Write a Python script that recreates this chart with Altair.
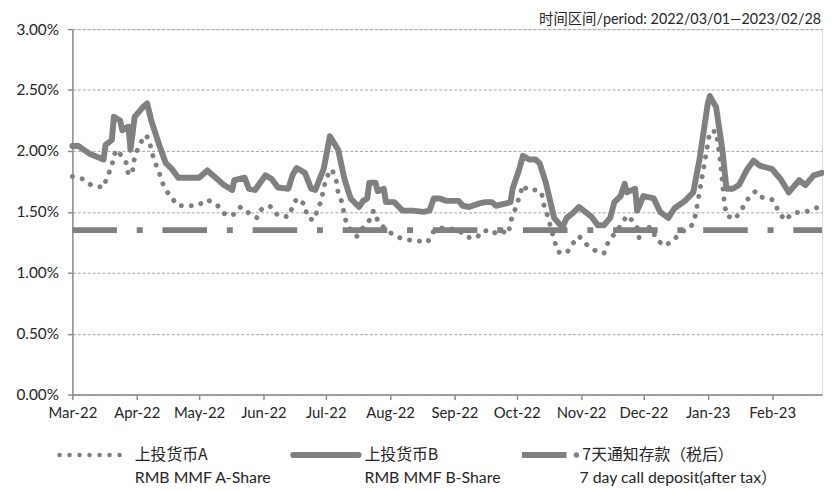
import altair as alt
import pandas as pd

# ---------------- data ----------------
B_dates = [
    "2022-03-01", "2022-03-04", "2022-03-09", "2022-03-16", "2022-03-17", "2022-03-20", "2022-03-21",
    "2022-03-24", "2022-03-25", "2022-03-28", "2022-03-29", "2022-03-31", "2022-04-04", "2022-04-06",
    "2022-04-08", "2022-04-12", "2022-04-15", "2022-04-18", "2022-04-21", "2022-04-24", "2022-05-01",
    "2022-05-05", "2022-05-09", "2022-05-13", "2022-05-17", "2022-05-18", "2022-05-23", "2022-05-25",
    "2022-05-28", "2022-06-02", "2022-06-05", "2022-06-08", "2022-06-13", "2022-06-15", "2022-06-17",
    "2022-06-21", "2022-06-24", "2022-06-26", "2022-06-30", "2022-07-03", "2022-07-07", "2022-07-10",
    "2022-07-13", "2022-07-17", "2022-07-19", "2022-07-21", "2022-07-22", "2022-07-25", "2022-07-26",
    "2022-07-29", "2022-07-30", "2022-08-03", "2022-08-07", "2022-08-12", "2022-08-17", "2022-08-20",
    "2022-08-22", "2022-08-25", "2022-08-28", "2022-08-31", "2022-09-03", "2022-09-05", "2022-09-08",
    "2022-09-13", "2022-09-16", "2022-09-19", "2022-09-21", "2022-09-26", "2022-09-28", "2022-09-29",
    "2022-10-02", "2022-10-04", "2022-10-07", "2022-10-10", "2022-10-12", "2022-10-15", "2022-10-19",
    "2022-10-23", "2022-10-25", "2022-10-28", "2022-10-31", "2022-11-03", "2022-11-06", "2022-11-09",
    "2022-11-12", "2022-11-15", "2022-11-17", "2022-11-20", "2022-11-22", "2022-11-23", "2022-11-27",
    "2022-11-28", "2022-12-01", "2022-12-06", "2022-12-09", "2022-12-13", "2022-12-16", "2022-12-21",
    "2022-12-25", "2022-12-28", "2023-01-01", "2023-01-02", "2023-01-05", "2023-01-08", "2023-01-10",
    "2023-01-13", "2023-01-16", "2023-01-20", "2023-01-23", "2023-01-26", "2023-02-01", "2023-02-05",
    "2023-02-09", "2023-02-14", "2023-02-17", "2023-02-21", "2023-02-25",
]
B_values = [
    2.04, 2.04, 1.98, 1.93, 2.05, 2.09, 2.28,
    2.25, 2.17, 2.20, 2.01, 2.28, 2.36, 2.39,
    2.25, 2.04, 1.90, 1.85, 1.78, 1.78, 1.78,
    1.84, 1.78, 1.72, 1.68, 1.76, 1.78, 1.69,
    1.68, 1.80, 1.77, 1.70, 1.69, 1.80, 1.86,
    1.82, 1.69, 1.68, 1.85, 2.12, 2.01, 1.77,
    1.61, 1.54, 1.59, 1.61, 1.74, 1.74, 1.67,
    1.69, 1.58, 1.58, 1.51, 1.51, 1.50, 1.51,
    1.61, 1.61, 1.59, 1.59, 1.59, 1.55, 1.54,
    1.57, 1.58, 1.58, 1.55, 1.57, 1.58, 1.69,
    1.84, 1.96, 1.93, 1.93, 1.90, 1.74, 1.45,
    1.37, 1.45, 1.49, 1.54, 1.50, 1.46, 1.39,
    1.39, 1.45, 1.58, 1.63, 1.73, 1.66, 1.69,
    1.51, 1.63, 1.61, 1.50, 1.45, 1.53, 1.59,
    1.66, 1.93, 2.39, 2.45, 2.36, 2.01, 1.69,
    1.69, 1.72, 1.85, 1.92, 1.88, 1.85, 1.77,
    1.66, 1.76, 1.72, 1.80, 1.82,
]

A_dates = [
    "2022-03-01", "2022-03-06", "2022-03-10", "2022-03-16", "2022-03-18", "2022-03-20", "2022-03-21",
    "2022-03-23", "2022-03-25", "2022-03-27", "2022-03-28", "2022-03-30", "2022-03-31", "2022-04-02",
    "2022-04-05", "2022-04-07", "2022-04-08", "2022-04-10", "2022-04-12", "2022-04-14", "2022-04-17",
    "2022-04-21", "2022-04-26", "2022-04-30", "2022-05-05", "2022-05-10", "2022-05-14", "2022-05-18",
    "2022-05-21", "2022-05-25", "2022-05-29", "2022-05-31", "2022-06-04", "2022-06-08", "2022-06-13",
    "2022-06-15", "2022-06-17", "2022-06-21", "2022-06-22", "2022-06-25", "2022-06-27", "2022-06-29",
    "2022-06-30", "2022-07-02", "2022-07-04", "2022-07-06", "2022-07-07", "2022-07-09", "2022-07-10",
    "2022-07-12", "2022-07-16", "2022-07-19", "2022-07-22", "2022-07-24", "2022-07-26", "2022-07-29",
    "2022-07-31", "2022-08-05", "2022-08-10", "2022-08-15", "2022-08-19", "2022-08-22", "2022-08-25",
    "2022-08-31", "2022-09-03", "2022-09-07", "2022-09-12", "2022-09-14", "2022-09-19", "2022-09-21",
    "2022-09-24", "2022-09-27", "2022-09-28", "2022-09-30", "2022-10-02", "2022-10-04", "2022-10-06",
    "2022-10-11", "2022-10-13", "2022-10-14", "2022-10-16", "2022-10-19", "2022-10-21", "2022-10-25",
    "2022-10-28", "2022-10-31", "2022-11-03", "2022-11-08", "2022-11-12", "2022-11-14", "2022-11-21",
    "2022-11-23", "2022-11-25", "2022-11-28", "2022-11-29", "2022-12-01", "2022-12-05", "2022-12-07",
    "2022-12-11", "2022-12-15", "2022-12-19", "2022-12-24", "2022-12-26", "2022-12-28", "2022-12-30",
    "2023-01-01", "2023-01-02", "2023-01-05", "2023-01-07", "2023-01-09", "2023-01-10", "2023-01-14",
    "2023-01-17", "2023-01-20", "2023-01-24", "2023-01-27", "2023-02-01", "2023-02-04", "2023-02-07",
    "2023-02-11", "2023-02-16", "2023-02-20", "2023-02-25",
]
A_values = [
    1.79, 1.77, 1.72, 1.70, 1.80, 1.87, 1.97,
    2.01, 1.94, 1.90, 1.80, 1.84, 1.95, 2.04,
    2.13, 2.10, 2.00, 1.90, 1.81, 1.71, 1.63,
    1.55, 1.55, 1.55, 1.60, 1.55, 1.47, 1.48,
    1.54, 1.49, 1.45, 1.52, 1.55, 1.47, 1.46,
    1.54, 1.61, 1.56, 1.46, 1.43, 1.51, 1.60,
    1.70, 1.80, 1.85, 1.76, 1.66, 1.57, 1.46,
    1.37, 1.30, 1.37, 1.43, 1.51, 1.43, 1.37,
    1.34, 1.29, 1.27, 1.26, 1.25, 1.34, 1.37,
    1.36, 1.35, 1.29, 1.29, 1.34, 1.35, 1.32,
    1.34, 1.32, 1.42, 1.51, 1.61, 1.72, 1.68,
    1.68, 1.65, 1.56, 1.46, 1.27, 1.17, 1.16,
    1.24, 1.30, 1.24, 1.18, 1.16, 1.25, 1.41,
    1.47, 1.44, 1.37, 1.28, 1.38, 1.37, 1.28,
    1.22, 1.26, 1.33, 1.38, 1.47, 1.66, 1.86,
    2.06, 2.16, 2.16, 1.92, 1.57, 1.47, 1.44,
    1.51, 1.60, 1.67, 1.62, 1.60, 1.51, 1.43,
    1.49, 1.50, 1.51, 1.56,
]

D_dates = ["2022-03-01", "2023-02-25"]
D_values = [1.35, 1.35]

month_ticks = [
    "2022-03-01", "2022-04-01", "2022-05-01", "2022-06-01", "2022-07-01", "2022-08-01",
    "2022-09-01", "2022-10-01", "2022-11-01", "2022-12-01", "2023-01-01", "2023-02-01",
]
y_ticks = [0, 0.5, 1.0, 1.5, 2.0, 2.5, 3.0]

legend_cn = ["上投货币A", "上投货币B", "7天通知存款（税后）"]
legend_en = ["RMB MMF A-Share", "RMB MMF B-Share", "7 day call deposit(after tax）"]
period_text = "时间区间/period: 2022/03/01—2023/02/28"

# ---------------- styling ----------------
W, H = 757, 369
GRAY = "#808080"
AXIS_GRAY = "#8c8c8c"
TEXT = "#262626"
LATIN = "Lato, 'Noto Sans CJK SC'"
CJK = "'Noto Sans CJK SC', Lato"


def ms(d):
    return int(pd.Timestamp(d).value // 10**6)


dfA = pd.DataFrame({"date": A_dates, "value": A_values})
dfB = pd.DataFrame({"date": B_dates, "value": B_values})
dfD = pd.DataFrame({"date": D_dates, "value": D_values})
one = pd.DataFrame({"k": [0]})

xscale = alt.Scale(type="utc", domain=[ms("2022-03-01"), ms("2023-02-25")], nice=False)
yscale = alt.Scale(domain=[0, 3], nice=False, zero=True)

xaxis = alt.Axis(
    values=[ms(d) for d in month_ticks],
    labelExpr="utcFormat(datum.value, '%b-%y')",
    title=None, grid=False, tickSize=5, tickColor=AXIS_GRAY, tickWidth=1.5,
    domainColor=AXIS_GRAY, domainWidth=1.5, labelFont=LATIN, labelFontSize=15,
    labelColor=TEXT, labelPadding=6, labelOverlap=False, labelFlush=False,
)
yaxis = alt.Axis(
    values=y_ticks,
    labelExpr="format(datum.value, '.2f') + '%'",
    title=None, grid=True, gridDash=[3, 2], gridColor="#a6a6a6", gridWidth=1,
    tickSize=5, tickColor=AXIS_GRAY, tickWidth=1.5, domainColor=AXIS_GRAY, domainWidth=1.5,
    labelFont=LATIN, labelFontSize=15.5, labelColor=TEXT, labelPadding=9,
)

X = alt.X("date:T", scale=xscale, axis=xaxis)
Y = alt.Y("value:Q", scale=yscale, axis=yaxis)

lineA = alt.Chart(dfA).mark_line(
    color=GRAY, strokeWidth=5, strokeDash=[0.1, 10], strokeCap="round", strokeJoin="round"
).encode(x=X, y=Y)

lineB = alt.Chart(dfB).mark_line(
    color=GRAY, strokeWidth=6, strokeCap="round", strokeJoin="round"
).encode(x=X, y=Y)

lineD = alt.Chart(dfD).mark_line(
    color=GRAY, strokeWidth=6, strokeDash=[45, 20, 6, 20], strokeCap="butt"
).encode(x=X, y=Y)

period = alt.Chart(one).mark_text(
    align="right", baseline="middle", font=LATIN, fontSize=14.5, color=TEXT
).encode(x=alt.value(W - 1), y=alt.value(-9), text=alt.value(period_text))

# ---------------- legend (drawn below the plot) ----------------
R1, R2 = 430, 453
legA_sym = alt.Chart(one).mark_rule(
    color=GRAY, strokeWidth=4.5, strokeDash=[0.1, 10], strokeCap="round"
).encode(x=alt.value(-13), x2=alt.value(49), y=alt.value(R1))
legB_sym = alt.Chart(one).mark_rule(
    color=GRAY, strokeWidth=6, strokeCap="round"
).encode(x=alt.value(223), x2=alt.value(289), y=alt.value(R1))
legD_sym = alt.Chart(one).mark_rule(
    color=GRAY, strokeWidth=6, strokeCap="butt"
).encode(x=alt.value(454), x2=alt.value(499), y=alt.value(R1))
legD_dot = alt.Chart(one).mark_circle(
    color=GRAY, size=30, opacity=1
).encode(x=alt.value(509), y=alt.value(R1))

leg_texts = []
for xpos, xpos2, cn, en in [(63, 63, legend_cn[0], legend_en[0]),
                            (295, 295, legend_cn[1], legend_en[1]),
                            (515, 512, legend_cn[2], legend_en[2])]:
    leg_texts.append(
        alt.Chart(one).mark_text(align="left", baseline="middle", font=CJK, fontSize=16, color=TEXT)
        .encode(x=alt.value(xpos), y=alt.value(R1), text=alt.value(cn))
    )
    leg_texts.append(
        alt.Chart(one).mark_text(align="left", baseline="middle", font=LATIN, fontSize=16, color=TEXT)
        .encode(x=alt.value(xpos2), y=alt.value(R2), text=alt.value(en))
    )

chart = alt.layer(
    lineA, lineB, lineD, period, legA_sym, legB_sym, legD_sym, legD_dot, *leg_texts
).properties(
    width=W, height=H,
    autosize=alt.AutoSizeParams(type="none"),
    padding={"left": 65, "top": 19, "right": 2, "bottom": 92},
).configure_view(stroke=None).configure(background="white")

chart.save("out.html", embed_options={"renderer": "svg", "actions": False})
